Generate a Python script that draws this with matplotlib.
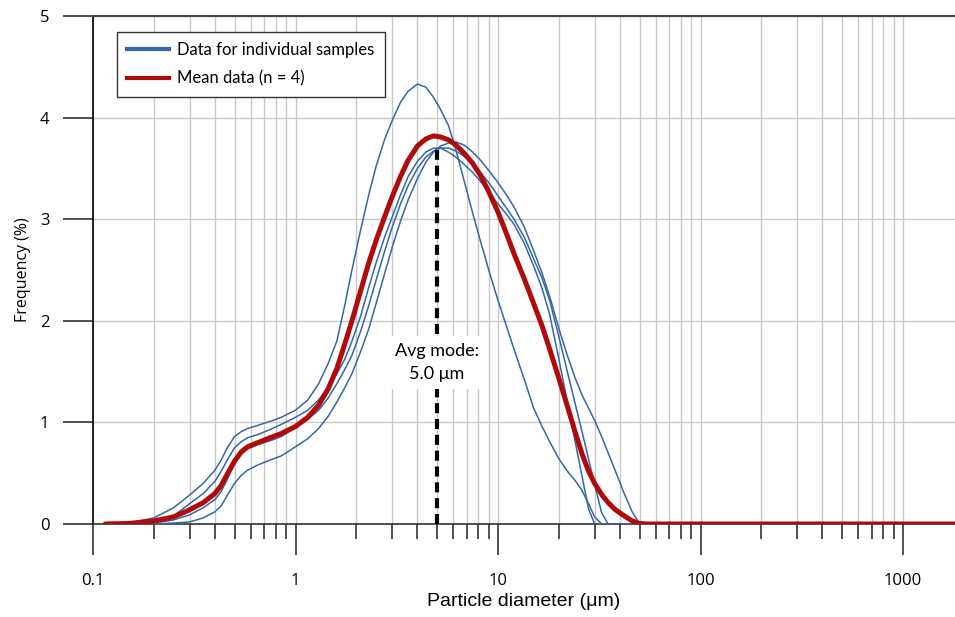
import matplotlib
matplotlib.use("Agg")
import matplotlib.pyplot as plt
from matplotlib.lines import Line2D
from matplotlib.ticker import FixedLocator, FuncFormatter, NullFormatter

# ---- data ----
diam = [0.115, 0.15, 0.2, 0.25, 0.3, 0.35, 0.4, 0.43, 0.46, 0.5,
        0.54, 0.58, 0.65, 0.75, 0.85, 1.0, 1.15, 1.3, 1.45, 1.6,
        1.75, 1.9, 2.1, 2.3, 2.5, 2.75, 3.0, 3.3, 3.6, 4.0,
        4.4, 4.8, 5.2, 5.7, 6.2, 6.8, 7.5, 8.2, 9.0, 10,
        11, 12, 13.5, 15, 16.5, 18, 20, 22, 24, 26,
        28, 30, 32.5, 35, 38, 42, 46, 50, 55, 2000]

mean_freq = [0, 0.005, 0.03, 0.07, 0.14, 0.21, 0.30, 0.38, 0.49, 0.62,
             0.71, 0.76, 0.80, 0.85, 0.89, 0.96, 1.05, 1.17, 1.33, 1.53,
             1.77, 2.00, 2.30, 2.57, 2.79, 3.02, 3.22, 3.42, 3.58, 3.72,
             3.79, 3.82, 3.81, 3.78, 3.73, 3.65, 3.55, 3.43, 3.27, 3.07,
             2.86, 2.66, 2.41, 2.17, 1.95, 1.72, 1.43, 1.16, 0.91, 0.69,
             0.52, 0.40, 0.29, 0.21, 0.14, 0.08, 0.03, 0.005, 0, 0]

sample_1 = [0, 0.01, 0.06, 0.16, 0.285, 0.40, 0.53, 0.63, 0.75, 0.86,
            0.91, 0.94, 0.97, 1.01, 1.05, 1.12, 1.22, 1.38, 1.58, 1.80,
            2.15, 2.50, 2.90, 3.24, 3.52, 3.78, 3.97, 4.15, 4.26, 4.33,
            4.30, 4.20, 4.08, 3.92, 3.68, 3.38, 3.06, 2.78, 2.50, 2.20,
            1.95, 1.72, 1.42, 1.14, 0.96, 0.81, 0.64, 0.52, 0.43, 0.33,
            0.20, 0.07, 0, 0, 0, 0, 0, 0, 0, 0]

sample_2 = [0, 0, 0.02, 0.08, 0.20, 0.30, 0.42, 0.52, 0.63, 0.75,
            0.81, 0.85, 0.88, 0.93, 0.98, 1.05, 1.12, 1.22, 1.35, 1.48,
            1.62, 1.80, 2.05, 2.33, 2.57, 2.82, 3.02, 3.24, 3.42, 3.57,
            3.66, 3.70, 3.70, 3.66, 3.61, 3.54, 3.46, 3.37, 3.27, 3.15,
            3.05, 2.95, 2.76, 2.54, 2.32, 2.06, 1.62, 1.20, 0.82, 0.47,
            0.15, 0, 0, 0, 0, 0, 0, 0, 0, 0]

sample_3 = [0, 0, 0.01, 0.04, 0.09, 0.16, 0.24, 0.32, 0.44, 0.59,
            0.69, 0.74, 0.78, 0.82, 0.86, 0.95, 1.03, 1.12, 1.24, 1.38,
            1.52, 1.66, 1.90, 2.15, 2.40, 2.68, 2.92, 3.15, 3.33, 3.50,
            3.61, 3.67, 3.70, 3.70, 3.67, 3.62, 3.54, 3.46, 3.36, 3.23,
            3.11, 3.00, 2.82, 2.61, 2.42, 2.20, 1.84, 1.50, 1.19, 0.91,
            0.64, 0.39, 0.11, 0, 0, 0, 0, 0, 0, 0]

sample_4 = [0, 0, 0, 0.01, 0.02, 0.06, 0.12, 0.18, 0.28, 0.40,
            0.48, 0.53, 0.58, 0.63, 0.67, 0.76, 0.84, 0.94, 1.06, 1.20,
            1.34, 1.48, 1.70, 1.92, 2.17, 2.46, 2.72, 2.98, 3.19, 3.40,
            3.56, 3.66, 3.72, 3.75, 3.76, 3.73, 3.66, 3.58, 3.48, 3.36,
            3.24, 3.12, 2.92, 2.69, 2.47, 2.24, 1.92, 1.66, 1.44, 1.27,
            1.14, 1.02, 0.86, 0.70, 0.52, 0.30, 0.12, 0, 0, 0]

samples = [sample_1, sample_2, sample_3, sample_4]

mode_x = 5.0
mode_top = 3.69
x_major = [0.1, 1, 10, 100, 1000]
y_major = [0, 1, 2, 3, 4, 5]
legend_labels = ["Data for individual samples", "Mean data (n = 4)"]
mode_text = "Avg mode:\n5.0 \u03bcm"

# ---- styling ----
BLUE = "#3567a6"
RED = "#b00a0a"
GRID = "#c8c8c8"
TICKFONT = "Open Sans"

fig = plt.figure(figsize=(9.55, 6.17), dpi=100)
ax = fig.add_axes([93 / 955, 93 / 617, 862 / 955, 508 / 617])
ax.set_xscale("log")
ax.set_xlim(0.1, 10 ** (3 + 52 / 202.5))
ax.set_ylim(0, 5)

minor = [m * 10.0 ** e for e in range(-1, 4) for m in range(2, 10)]
ax.xaxis.set_major_locator(FixedLocator(x_major))
ax.xaxis.set_minor_locator(FixedLocator(minor))
ax.xaxis.set_major_formatter(FuncFormatter(lambda v, p: "%g" % v))
ax.xaxis.set_minor_formatter(NullFormatter())
ax.yaxis.set_major_locator(FixedLocator(y_major))

ax.grid(which="both", axis="x", color=GRID, lw=1.0, zorder=0)
ax.grid(which="major", axis="y", color=GRID, lw=1.0, zorder=0)
ax.set_axisbelow(True)

for s in samples:
    ax.plot(diam, s, color=BLUE, lw=1.1, zorder=3, solid_joinstyle="round")
ax.plot(diam, mean_freq, color=RED, lw=3.6, zorder=4, solid_capstyle="round",
        solid_joinstyle="round")

ax.plot([mode_x, mode_x], [0, mode_top], color="black", lw=3.0,
        dashes=(2.4, 1.4), zorder=5)
ax.text(mode_x, 1.59, mode_text, ha="center", va="center", fontsize=13,
        family="Lato", linespacing=1.55, zorder=6,
        bbox=dict(facecolor="white", edgecolor="none", pad=5))

ax.tick_params(axis="x", which="major", direction="out", length=22, width=1.1,
               pad=13, labelsize=12, color="#222222")
ax.tick_params(axis="x", which="minor", direction="out", length=11, width=1.1,
               color="#222222")
ax.tick_params(axis="y", which="major", direction="out", length=21.5, width=1.1,
               pad=10, labelsize=12, color="#222222")
for lab in ax.get_xticklabels() + ax.get_yticklabels():
    lab.set_family(TICKFONT)

ax.spines["right"].set_visible(False)
ax.spines["left"].set_color("black")
ax.spines["left"].set_linewidth(1.2)
ax.spines["bottom"].set_color("#333333")
ax.spines["bottom"].set_linewidth(1.2)
ax.spines["top"].set_color("#444444")
ax.spines["top"].set_linewidth(1.5)

ax.set_xlabel("Particle diameter (\u03bcm)", fontsize=14, family="Liberation Sans",
              labelpad=3)
ax.set_ylabel("Frequency (%)", fontsize=11.5, family=TICKFONT, labelpad=6)

handles = [Line2D([], [], color=BLUE, lw=3), Line2D([], [], color=RED, lw=3)]
leg = ax.legend(handles, legend_labels, loc="upper left",
                bbox_to_anchor=(24 / 862, (524 - 32) / 508), borderaxespad=0,
                fancybox=False, framealpha=1, edgecolor="#333333",
                prop={"family": "Lato", "size": 12}, handlelength=2.5,
                handletextpad=0.5, labelspacing=0.72, borderpad=0.62)
leg.get_frame().set_linewidth(1.0)
leg.set_zorder(10)

fig.savefig("out.png", dpi=100)
